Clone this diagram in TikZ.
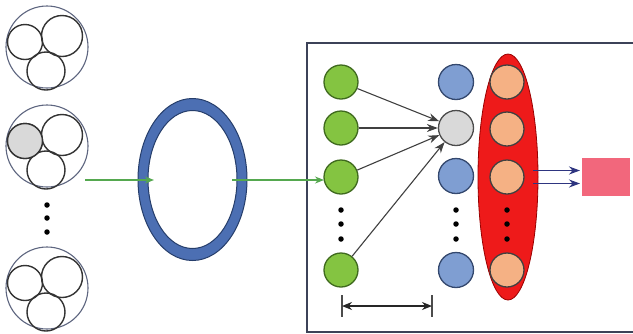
\documentclass[tikz,border=0pt]{standalone}
\usetikzlibrary{arrows.meta,shapes.geometric}
\definecolor{ringblue}{HTML}{4C6FB3}
\definecolor{ringedge}{HTML}{263E6B}
\definecolor{leafgreen}{HTML}{84C441}
\definecolor{leafedge}{HTML}{3F6A1E}
\definecolor{nodeblue}{HTML}{7F9ED2}
\definecolor{nodeblueedge}{HTML}{34486E}
\definecolor{nodegray}{HTML}{D9D9D9}
\definecolor{peach}{HTML}{F5B184}
\definecolor{poolred}{HTML}{EE1A1A}
\definecolor{outpink}{HTML}{F2677C}
\definecolor{flowgreen}{HTML}{55A84F}
\definecolor{navy}{HTML}{2E3580}
\definecolor{framecol}{HTML}{3C4258}
\definecolor{groupedge}{HTML}{5E6680}
\tikzset{
  group/.style={circle, draw=groupedge, line width=1.1pt, minimum size=82pt, inner sep=0pt},
  member/.style={circle, draw=black!80, line width=1.4pt, inner sep=0pt},
  neuron/.style={circle, line width=1.3pt, minimum size=34pt, inner sep=0pt},
  greenn/.style={neuron, fill=leafgreen, draw=leafedge},
  bluen/.style={neuron, fill=nodeblue, draw=nodeblueedge, minimum size=35pt},
  grayn/.style={neuron, fill=nodegray, draw=black!70, minimum size=35pt},
  peachn/.style={neuron, fill=peach, draw=black!75},
  fan/.style={-{Stealth[length=11pt,width=8pt]}, line width=1.1pt, draw=black!75},
  flow/.style={-{Stealth[length=9pt,width=7pt]}, line width=1.3pt, draw=flowgreen},
  outarrow/.style={-{Stealth[length=11pt,width=8pt]}, line width=1.5pt, draw=navy},
  vdot/.style={circle, fill=black, inner sep=0pt, minimum size=5.5pt}
}
\begin{document}
\begin{tikzpicture}[x=1pt,y=-1pt]
\useasboundingbox (0,0) rectangle (633,333);
\fill[white] (0,0) rectangle (633,333);

% groups of three members on the left
\foreach \n/\cy in {a/47, b/146, c/288}{
  \node[group] (g\n) at (47,\cy) {};
  \node[member, minimum size=35pt] (g\n1) at (25,\cy-5) {};
  \node[member, minimum size=41pt] (g\n2) at (62,\cy-11) {};
  \node[member, minimum size=38pt] (g\n3) at (46,\cy+24) {};
}
\node[member, minimum size=35pt, fill=nodegray] at (gb1) {};
\foreach \y in {205,218,232} \node[vdot] at (47,\y) {};

% the ring
\fill[ringblue, even odd rule] (192.5,179.5) ellipse [x radius=54.5, y radius=81]
                               (192.5,179.5) ellipse [x radius=44.5, y radius=69];
\draw[ringedge, line width=1pt] (192.5,179.5) ellipse [x radius=54.5, y radius=81];
\draw[ringedge, line width=1pt] (192.5,179.5) ellipse [x radius=44.5, y radius=69];

% frame of the network
\draw[framecol, line width=1.6pt] (633,43) -- (307,43) -- (307,332) -- (633,332);

% pooling ellipse
\node[ellipse, draw=red!60!black, line width=0.8pt, fill=poolred,
      minimum width=60pt, minimum height=246pt, inner sep=0pt] (pool) at (508,177) {};

% input neurons
\node[greenn] (i1) at (341,82) {};
\node[greenn] (i2) at (341,128) {};
\node[greenn] (i3) at (341,177) {};
\node[greenn] (i4) at (341,270) {};
% hidden neurons
\node[bluen] (h1) at (456,82) {};
\node[grayn] (h2) at (456,128) {};
\node[bluen] (h3) at (456,176) {};
\node[bluen] (h4) at (456,270) {};
% pooled neurons
\node[peachn] (p1) at (507,82) {};
\node[peachn] (p2) at (507,129) {};
\node[peachn] (p3) at (507,177) {};
\node[peachn] (p4) at (507,270) {};

\foreach \x in {341,456,507}
  \foreach \y in {210,224,239} \node[vdot] at (\x,\y) {};

% connections into the gray neuron
\foreach \k in {1,2,3,4} \draw[fan] (i\k) -- (h2);

% flow through the ring
\coordinate (f1s) at (85,180);
\coordinate (f1e) at (154,180);
\coordinate (f2s) at (232,180);
\coordinate (f2e) at (324,180);
\draw[flow] (f1s) -- (f1e);
\draw[flow] (f2s) -- (f2e);

% output
\node[fill=outpink, minimum width=48pt, minimum height=38pt, inner sep=0pt] (out) at (606,177) {};
\coordinate (o1s) at (533,170.5);
\coordinate (o1e) at (580,170.5);
\coordinate (o2s) at (533,183.5);
\coordinate (o2e) at (580,183.5);
\draw[outarrow] (o1s) -- (o1e);
\draw[outarrow] (o2s) -- (o2e);

% span marker
\coordinate (sl) at (342,306);
\coordinate (sr) at (432,306);
\draw[black!70, line width=1.3pt] (342,295) -- (342,317);
\draw[black!70, line width=1.3pt] (432,295) -- (432,317);
\draw[{Stealth[length=10pt,width=8pt]}-{Stealth[length=10pt,width=8pt]}, line width=1.3pt, black!85] (sl) -- (sr);
\end{tikzpicture}
\end{document}
